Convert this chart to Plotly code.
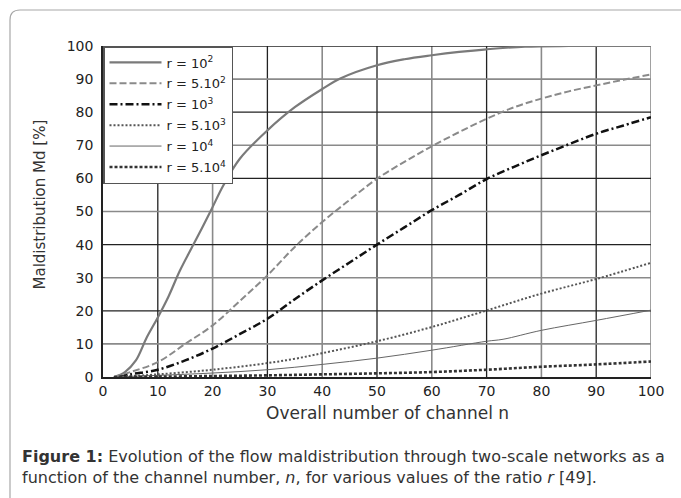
import plotly.graph_objects as go

# ---- data ----
n_r1e2 = [2, 4, 6, 8, 10, 12, 14, 16.5, 19.6, 22, 25, 30, 35, 40, 43.3, 50, 55, 60, 65, 70, 77, 85, 93, 100]
v_r1e2 = [0, 1.5, 5, 12, 18, 24.5, 32, 40, 50, 58, 66, 74.5, 81.5, 87, 90.2, 94.2, 96, 97.2, 98.2, 99, 99.8, 100, 100, 100]

n_r5e2 = [2, 5, 10, 15, 20, 25, 30, 35, 40, 45, 50, 55, 60, 65, 70, 75, 80, 85, 90, 95, 100]
v_r5e2 = [0, 1.5, 4.5, 10, 15.6, 23, 30.7, 39.3, 46.8, 53.5, 59.9, 65, 69.7, 74, 78, 81.5, 84.1, 86.3, 88.1, 89.8, 91.4]

n_r1e3 = [3, 5, 10, 15, 20, 25, 30, 35, 40, 45, 50, 55, 60, 65, 70, 75, 80, 85, 90, 95, 100]
v_r1e3 = [0, 0.8, 2.2, 5, 8.6, 13, 17.6, 23.5, 29.2, 34.6, 40, 45.2, 50.4, 55, 59.8, 63.5, 67, 70.3, 73.5, 76, 78.5]

n_r5e3 = [2, 10, 20, 30, 35, 40, 50, 60, 70, 80, 90, 100]
v_r5e3 = [0, 0.8, 2.2, 4.2, 5.5, 7.2, 10.8, 15.1, 20.1, 25.2, 29.6, 34.5]

n_r1e4 = [2, 10, 20, 30, 40, 50, 60, 70, 73, 80, 90, 100]
v_r1e4 = [0, 0.5, 1.2, 2.2, 3.8, 5.7, 8.1, 10.8, 11.4, 14.1, 17.1, 20.2]

n_r5e4 = [2, 10, 20, 30, 40, 50, 60, 70, 80, 90, 100]
v_r5e4 = [0, 0.1, 0.3, 0.5, 0.8, 1.1, 1.5, 2.2, 3.1, 3.8, 4.7]

legend_names = ["r = 10<sup>2</sup>", "r = 5.10<sup>2</sup>", "r = 10<sup>3</sup>",
                "r = 5.10<sup>3</sup>", "r = 10<sup>4</sup>", "r = 5.10<sup>4</sup>"]

x_ticks = [0, 10, 20, 30, 40, 50, 60, 70, 80, 90, 100]
y_ticks = [0, 10, 20, 30, 40, 50, 60, 70, 80, 90, 100]

x_title = "Overall number of channel n"
y_title = "Maldistribution Md [%]"
caption1 = "<b>Figure 1:</b> Evolution of the flow maldistribution through two-scale networks as a"
caption2 = "function of the channel number, <i>n</i>, for various values of the ratio <i>r</i> [49]."

series = [
    (n_r1e2, v_r1e2, dict(color="#7a7a7a", width=2.2, dash="solid")),
    (n_r5e2, v_r5e2, dict(color="#8a8a8a", width=2.0, dash="7px,3px")),
    (n_r1e3, v_r1e3, dict(color="#111111", width=2.5, dash="8px,3px,2px,3px")),
    (n_r5e3, v_r5e3, dict(color="#555555", width=2.0, dash="2px,2px")),
    (n_r1e4, v_r1e4, dict(color="#666666", width=1.0, dash="solid")),
    (n_r5e4, v_r5e4, dict(color="#333333", width=2.6, dash="3px,2px")),
]

fig = go.Figure()
for i, (xs, ys, ln) in enumerate(series):
    fig.add_trace(go.Scatter(x=xs, y=ys, mode="lines", line=ln, name=legend_names[i],
                             legendgroup=f"g{i}", line_shape="spline"))

# ---- layout geometry ----
L, R, T, B = 103, 30, 46, 121
W, H = 681, 498
pw, ph = W - L - R, H - T - B

def xp(px):
    return (px - L) / pw

def yp(py):
    return (H - B - py) / ph

shapes = []
# grid: grey on every 10, dark on alternates
for v in x_ticks[1:]:
    dark = (v // 10) % 2 == 1
    shapes.append(dict(type="line", xref="x", yref="paper", x0=v, x1=v, y0=0, y1=1,
                       line=dict(color="#222222" if dark else "#8a8a8a", width=1.3 if dark else 1.6),
                       layer="below"))
for v in y_ticks[1:]:
    dark = (v // 10) % 2 == 0
    shapes.append(dict(type="line", xref="paper", yref="y", x0=0, x1=1, y0=v, y1=v,
                       line=dict(color="#222222" if dark else "#8a8a8a", width=1.3 if dark else 1.6),
                       layer="below"))
# outer rounded frame
shapes.append(dict(type="path", xref="paper", yref="paper",
                   path=f"M {xp(10)},{yp(505)} L {xp(10)},{yp(20)} Q {xp(10)},{yp(10)} {xp(20)},{yp(10)} L {xp(690)},{yp(10)}",
                   line=dict(color="#a8a8a8", width=1.2)))

font_family = "DejaVu Sans, Arial, sans-serif"
annotations = [
    dict(text=x_title, xref="paper", yref="paper", x=xp(387), y=yp(413), xanchor="center", yanchor="middle",
         showarrow=False, font=dict(family=font_family, size=17, color="#333333")),
    dict(text=y_title, xref="paper", yref="paper", x=xp(40), y=yp(204.5), xanchor="center", yanchor="middle",
         textangle=-90, showarrow=False, font=dict(family=font_family, size=15, color="#333333")),
    dict(text=caption1, xref="paper", yref="paper", x=xp(20), y=yp(456), xanchor="left", yanchor="middle",
         showarrow=False, font=dict(family=font_family, size=16, color="#333333")),
    dict(text=caption2, xref="paper", yref="paper", x=xp(20), y=yp(477), xanchor="left", yanchor="middle",
         showarrow=False, font=dict(family=font_family, size=16, color="#333333")),
]

fig.update_layout(
    width=W, height=H,
    margin=dict(l=L, r=R, t=T, b=B, pad=0),
    paper_bgcolor="white", plot_bgcolor="white",
    shapes=shapes, annotations=annotations,
    showlegend=True,
    legend=dict(x=0, y=1, xanchor="left", yanchor="top", bgcolor="white",
                bordercolor="#555555", borderwidth=1.5,
                font=dict(family=font_family, size=13, color="#222222"),
                itemwidth=52, tracegroupgap=1),
    font=dict(family=font_family, color="#222222"),
)
fig.update_xaxes(range=[0, 100], tickvals=x_ticks, showgrid=False, zeroline=False,
                 showline=True, linecolor="#222222", linewidth=1.5, ticks="",
                 ticklabelstandoff=0, tickfont=dict(family=font_family, size=14, color="#222222"))
fig.update_yaxes(range=[0, 100], tickvals=y_ticks, showgrid=False, zeroline=False,
                 showline=True, linecolor="#222222", linewidth=1.5, ticks="",
                 ticklabelstandoff=5, tickfont=dict(family=font_family, size=14, color="#222222"))

fig.write_html("out.html")
